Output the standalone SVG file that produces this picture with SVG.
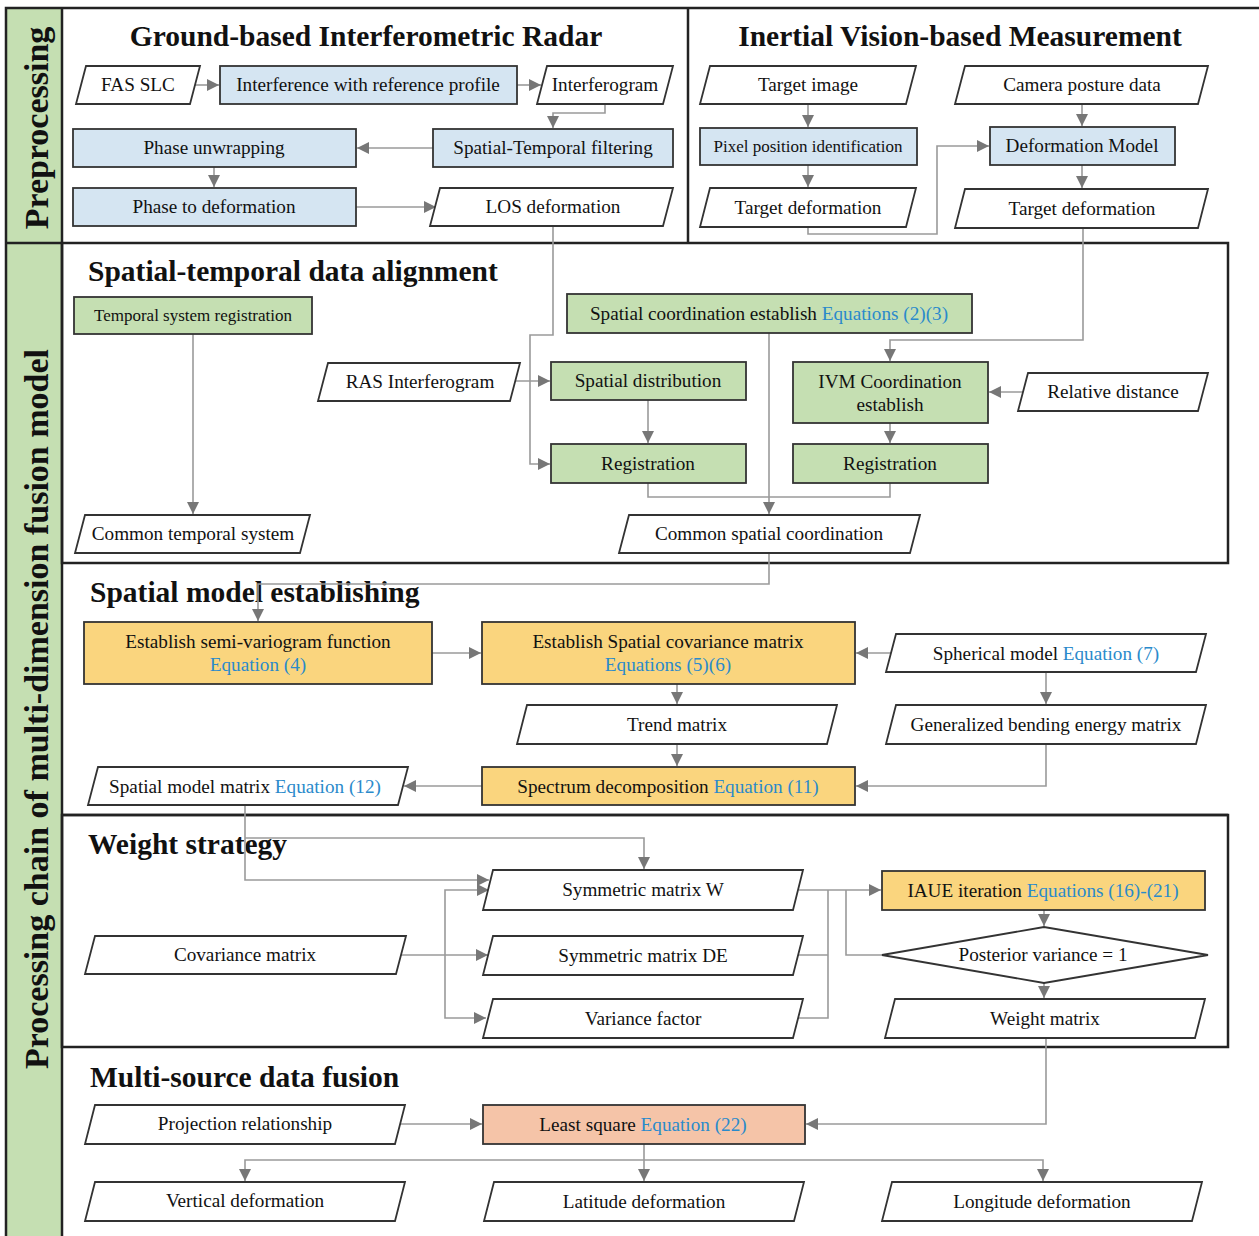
<svg xmlns="http://www.w3.org/2000/svg" width="1259" height="1236" viewBox="0 0 1259 1236">
<defs>
<marker id="ah" viewBox="0 0 10 10" refX="10" refY="5" markerWidth="12" markerHeight="12" markerUnits="userSpaceOnUse" orient="auto">
<path d="M0,0 L10,5 L0,10 z" fill="#777"/>
</marker>
<style>
.n{stroke:#333;stroke-width:1.8}
.io{fill:#fff}
.bl{fill:#D5E5F2}
.gr{fill:#C5DFB2}
.ye{fill:#FAD57E}
.sa{fill:#F5C4A8}
text{font-family:"Liberation Serif","Times New Roman",serif;fill:#111}
.t{font-size:19.2px;text-anchor:middle}
.s{font-size:17px}
.eq{fill:#2A8ACB}
.h{font-size:29.5px;font-weight:bold}
.side{font-size:34px;font-weight:bold;text-anchor:middle}
.c{stroke:#9a9a9a;stroke-width:1.6;fill:none}
.a{marker-end:url(#ah)}
.frame{stroke:#222;stroke-width:2.5;fill:none}
</style>
</defs>

<g id="frame">
<rect x="6" y="8" width="56" height="1228" fill="#C5DFB2"/>
<path class="frame" d="M6,1236 V8 H1259 M62,8 V1236 M6,243 H62 M688,8 V243"/>
<rect class="frame" x="62" y="243" width="1166" height="320"/>
<path class="frame" d="M62,815 H1228"/>
<rect class="frame" x="62" y="815" width="1166" height="232"/>
<text class="side" transform="translate(48,128) rotate(-90)">Preprocessing</text>
<text class="side" transform="translate(48,709) rotate(-90)">Processing chain of multi-dimension fusion model</text>
<text class="h" x="366" y="46" text-anchor="middle">Ground-based Interferometric Radar</text>
<text class="h" x="960" y="46" text-anchor="middle">Inertial Vision-based Measurement</text>
<text class="h" x="88" y="281">Spatial-temporal data alignment</text>
<text class="h" x="90" y="602">Spatial model establishing</text>
<text class="h" x="88" y="854">Weight strategy</text>
<text class="h" x="90" y="1087">Multi-source data fusion</text>
</g>

<g id="connectors">
<path class="c a" d="M195,85 H219"/>
<path class="c a" d="M517,85 H541"/>
<path class="c a" d="M605,104 V113 H553 V128"/>
<path class="c a" d="M433,148 H357"/>
<path class="c a" d="M214,167 V187"/>
<path class="c a" d="M356,207 H436"/>
<path class="c a" d="M553,226 V335 H530 V464 H550"/>
<path class="c a" d="M808,104 V127"/>
<path class="c a" d="M808,165 V187"/>
<path class="c a" d="M1082,104 V126"/>
<path class="c a" d="M1082,165 V188"/>
<path class="c a" d="M808,227 V234 H937 V146 H989"/>
<path class="c a" d="M1083,228 V340 H890 V361"/>
<path class="c a" d="M193,334 V514"/>
<path class="c a" d="M515,381 H550"/>
<path class="c a" d="M769,333 V514"/>
<path class="c a" d="M648,400 V443"/>
<path class="c" d="M648,483 V497 H890 V483"/>
<path class="c a" d="M1023,392 H989"/>
<path class="c a" d="M890,423 V443"/>
<path class="c a" d="M769,553 V584 H258 V621"/>
<path class="c a" d="M432,653 H481"/>
<path class="c a" d="M891,653 H856"/>
<path class="c a" d="M677,684 V704"/>
<path class="c a" d="M677,744 V766"/>
<path class="c a" d="M1046,672 V704"/>
<path class="c a" d="M1046,744 V786 H856"/>
<path class="c a" d="M482,786 H404"/>
<path class="c a" d="M245,805 V880 H489"/>
<path class="c a" d="M245,838 H644 V869"/>
<path class="c a" d="M401,955 H488"/>
<path class="c a" d="M445,955 V890 H489"/>
<path class="c a" d="M445,955 V1018 H486"/>
<path class="c a" d="M799,890 H881"/>
<path class="c" d="M798,955 H828 M797,1018 H828 V890"/>
<path class="c" d="M846,890 V955 H882"/>
<path class="c a" d="M1044,910 V926"/>
<path class="c a" d="M1044,983 V998"/>
<path class="c a" d="M1046,1038 V1124 H806"/>
<path class="c a" d="M400,1124 H482"/>
<path class="c a" d="M644,1144 V1181"/>
<path class="c a" d="M644,1160 H245 V1181"/>
<path class="c a" d="M644,1160 H1043 V1181"/>
</g>

<g id="n-fas"><polygon class="n io" points="86,66 200,66 190,104 76,104"/><text class="t" x="138" y="91">FAS SLC</text></g>
<g id="n-interference"><rect class="n bl" x="220" y="66" width="297" height="38"/><text class="t" x="368" y="91">Interference with reference profile</text></g>
<g id="n-interferogram"><polygon class="n io" points="547,66 673,66 663,104 537,104"/><text class="t" x="605" y="91">Interferogram</text></g>
<g id="n-unwrap"><rect class="n bl" x="73" y="129" width="283" height="38"/><text class="t" x="214" y="154">Phase unwrapping</text></g>
<g id="n-stfilter"><rect class="n bl" x="433" y="129" width="240" height="38"/><text class="t" x="553" y="154">Spatial-Temporal filtering</text></g>
<g id="n-phase2def"><rect class="n bl" x="73" y="188" width="283" height="38"/><text class="t" x="214" y="213">Phase to deformation</text></g>
<g id="n-los"><polygon class="n io" points="440,188 673,188 663,226 430,226"/><text class="t" x="553" y="213">LOS deformation</text></g>

<g id="n-targetimg"><polygon class="n io" points="710,66 916,66 906,104 700,104"/><text class="t" x="808" y="91">Target image</text></g>
<g id="n-camera"><polygon class="n io" points="965,66 1208,66 1198,104 955,104"/><text class="t" x="1082" y="91">Camera posture data</text></g>
<g id="n-pixel"><rect class="n bl" x="700" y="128" width="217" height="37"/><text class="t s" x="808" y="152">Pixel position identification</text></g>
<g id="n-defmodel"><rect class="n bl" x="990" y="127" width="185" height="38"/><text class="t" x="1082" y="152">Deformation Model</text></g>
<g id="n-targetdef1"><polygon class="n io" points="710,188 916,188 906,227 700,227"/><text class="t" x="808" y="214">Target deformation</text></g>
<g id="n-targetdef2"><polygon class="n io" points="965,189 1208,189 1198,228 955,228"/><text class="t" x="1082" y="215">Target deformation</text></g>

<g id="n-tempreg"><rect class="n gr" x="74" y="297" width="238" height="37"/><text class="t s" x="193" y="321">Temporal system registration</text></g>
<g id="n-commontemp"><polygon class="n io" points="85,515 310,515 300,553 75,553"/><text class="t" x="193" y="540">Common temporal system</text></g>
<g id="n-spcoord"><rect class="n gr" x="567" y="294" width="405" height="39"/><text class="t" x="769" y="320">Spatial coordination establish  <tspan class="eq">Equations (2)(3)</tspan></text></g>
<g id="n-ras"><polygon class="n io" points="328,363 520,363 510,401 318,401"/><text class="t" x="420" y="388">RAS Interferogram</text></g>
<g id="n-spdist"><rect class="n gr" x="551" y="362" width="195" height="38"/><text class="t" x="648" y="387">Spatial distribution</text></g>
<g id="n-reg1"><rect class="n gr" x="551" y="444" width="195" height="39"/><text class="t" x="648" y="470">Registration</text></g>
<g id="n-ivm"><rect class="n gr" x="793" y="362" width="195" height="61"/><text class="t" x="890" y="388">IVM Coordination</text><text class="t" x="890" y="411">establish</text></g>
<g id="n-reldist"><polygon class="n io" points="1028,373 1208,373 1198,411 1018,411"/><text class="t" x="1113" y="398">Relative distance</text></g>
<g id="n-reg2"><rect class="n gr" x="793" y="444" width="195" height="39"/><text class="t" x="890" y="470">Registration</text></g>
<g id="n-commonsp"><polygon class="n io" points="629,515 920,515 910,553 619,553"/><text class="t" x="769" y="540">Common spatial coordination</text></g>

<g id="n-semivar"><rect class="n ye" x="84" y="622" width="348" height="62"/><text class="t" x="258" y="648">Establish semi-variogram function</text><text class="t eq" x="258" y="671">Equation (4)</text></g>
<g id="n-spcov"><rect class="n ye" x="482" y="622" width="373" height="62"/><text class="t" x="668" y="648">Establish Spatial covariance matrix</text><text class="t eq" x="668" y="671">Equations (5)(6)</text></g>
<g id="n-spherical"><polygon class="n io" points="896,634 1206,634 1196,672 886,672"/><text class="t" x="1046" y="660">Spherical model <tspan class="eq">Equation (7)</tspan></text></g>
<g id="n-trend"><polygon class="n io" points="527,705 837,705 827,744 517,744"/><text class="t" x="677" y="731">Trend matrix</text></g>
<g id="n-gbem"><polygon class="n io" points="896,705 1206,705 1196,744 886,744"/><text class="t" x="1046" y="731">Generalized bending energy matrix</text></g>
<g id="n-spectrum"><rect class="n ye" x="482" y="767" width="373" height="38"/><text class="t" x="668" y="793">Spectrum decomposition <tspan class="eq">Equation (11)</tspan></text></g>
<g id="n-spmodel"><polygon class="n io" points="98,767 408,767 398,805 88,805"/><text class="t" x="245" y="793">Spatial model matrix <tspan class="eq">Equation (12)</tspan></text></g>

<g id="n-symw"><polygon class="n io" points="493,870 803,870 793,910 483,910"/><text class="t" x="643" y="896">Symmetric matrix W</text></g>
<g id="n-covm"><polygon class="n io" points="95,936 406,936 396,974 85,974"/><text class="t" x="245" y="961">Covariance matrix</text></g>
<g id="n-symde"><polygon class="n io" points="493,936 803,936 793,975 483,975"/><text class="t" x="643" y="962">Symmetric matrix DE</text></g>
<g id="n-varf"><polygon class="n io" points="493,999 803,999 793,1038 483,1038"/><text class="t" x="643" y="1025">Variance factor</text></g>
<g id="n-iaue"><rect class="n ye" x="882" y="871" width="323" height="39"/><text class="t" x="1043" y="897">IAUE iteration <tspan class="eq">Equations (16)-(21)</tspan></text></g>
<g id="n-posterior"><polygon class="n io" points="882,955 1044,927 1208,955 1044,983"/><text class="t" x="1043" y="961">Posterior variance = 1</text></g>
<g id="n-weightm"><polygon class="n io" points="895,999 1205,999 1195,1038 885,1038"/><text class="t" x="1045" y="1025">Weight matrix</text></g>

<g id="n-proj"><polygon class="n io" points="95,1105 405,1105 395,1144 85,1144"/><text class="t" x="245" y="1130">Projection relationship</text></g>
<g id="n-lsq"><rect class="n sa" x="483" y="1105" width="322" height="39"/><text class="t" x="643" y="1131">Least square <tspan class="eq">Equation (22)</tspan></text></g>
<g id="n-vert"><polygon class="n io" points="95,1182 405,1182 395,1221 85,1221"/><text class="t" x="245" y="1207">Vertical deformation</text></g>
<g id="n-lat"><polygon class="n io" points="494,1182 804,1182 794,1221 484,1221"/><text class="t" x="644" y="1208">Latitude deformation</text></g>
<g id="n-lon"><polygon class="n io" points="892,1182 1202,1182 1192,1221 882,1221"/><text class="t" x="1042" y="1208">Longitude deformation</text></g>
</svg>
